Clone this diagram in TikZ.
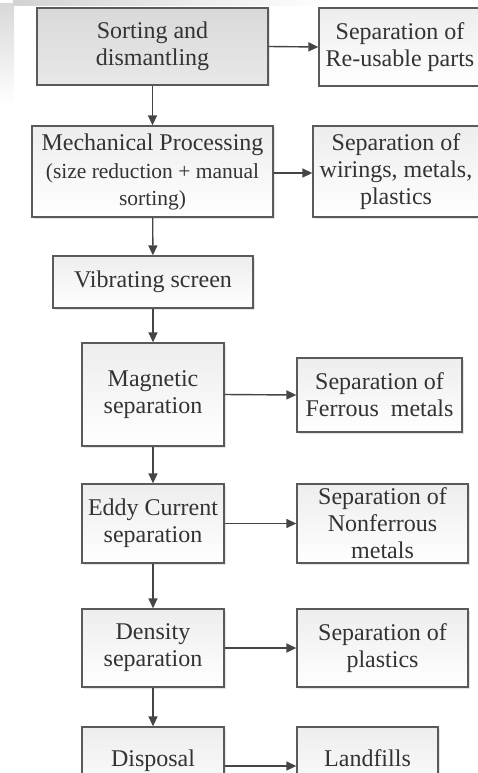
\documentclass[tikz,border=0pt]{standalone}
\usepackage{fontspec}
\setmainfont{Liberation Serif}
\usetikzlibrary{arrows.meta,shadows}
\definecolor{boxline}{HTML}{5A5A5A}
\definecolor{arrowc}{HTML}{454545}
\definecolor{txt}{HTML}{333333}
\begin{document}
\begin{tikzpicture}[x=1pt,y=-1pt,
  box/.style={draw=boxline, line width=1.3pt, top color=gray!14, bottom color=white,
    inner sep=0pt, align=center, text=txt, font=\fontsize{24}{27}\selectfont,
    drop shadow={shadow xshift=1.5pt, shadow yshift=-1.5pt, fill=gray!35, opacity=0.6}},
  darkbox/.style={box, top color=gray!30, bottom color=gray!18},
  boxtext/.style={inner sep=0pt, text=txt, font=\fontsize{24}{27}\selectfont, anchor=base},
  flow/.style={draw=arrowc, line width=1.4pt, -{Triangle[length=10pt,width=9pt]}}]
\useasboundingbox (0,0) rectangle (478,773);
\clip (0,0) rectangle (478,773);
% photo-like background shading at the top-left
\shade[left color=gray!35, right color=white] (13,0) rectangle (330,6);
\shade[top color=gray!30, bottom color=white] (0,4) rectangle (14,105);
% boxes
\node[darkbox, minimum width=231pt, minimum height=77pt] (sort) at (152.5,46.5) {Sorting and\\dismantling};
\node[box, minimum width=162pt, minimum height=78pt] (reuse) at (400,47) {Separation of\\Re-usable parts};
\node[box, minimum width=241pt, minimum height=91pt] (mech) at (152.5,171.5)
  {Mechanical Processing\\[1pt]{\fontsize{21.5}{24}\selectfont(size reduction + manual}\\{\fontsize{21.5}{24}\selectfont sorting)}};
\node[box, minimum width=166pt, minimum height=91pt] (wire) at (396,171.5) {Separation of\\wirings, metals,\\plastics};
\node[box, minimum width=200pt, minimum height=52pt] (vib) at (153,282) {Vibrating screen};
\node[box, minimum width=142pt, minimum height=103pt] (mag) at (153,394.5) {Magnetic\\separation};
\node[box, minimum width=165pt, minimum height=74pt] (ferr) at (379.5,395) {Separation of\\Ferrous\ \ metals};
\node[box, minimum width=142pt, minimum height=79pt] (eddy) at (153,523.5) {Eddy Current\\separation};
\node[box, minimum width=171pt, minimum height=79pt] (nonf) at (382.5,523.5) {Separation of\\Nonferrous\\metals};
\node[box, minimum width=142pt, minimum height=78pt] (dens) at (153,648) {Density\\separation};
\node[box, minimum width=171pt, minimum height=78pt] (plas) at (382.5,648) {Separation of\\plastics};
\node[box, minimum width=142pt, minimum height=78pt] (disp) at (153,766) {};
\node[box, minimum width=141pt, minimum height=78pt] (land) at (367.5,766) {};
\node[boxtext] (disptext) at (153,766.5) {Disposal};
\node[boxtext] (landtext) at (367.5,766.5) {Landfills};
% connectors
\draw[flow] (sort) -- (mech);
\draw[flow] (mech) -- (vib);
\draw[flow] (vib) -- (mag);
\draw[flow] (mag) -- (eddy);
\draw[flow] (eddy) -- (dens);
\draw[flow] (dens) -- (disp);
\draw[flow] (sort.east) -- (reuse.west);
\draw[flow] (mech.east) ++(0,1.5) -- ([yshift=-1.5pt]wire.west);
\draw[flow] (mag.east) -- (ferr.west);
\draw[flow] (eddy.east) -- (nonf.west);
\draw[flow] (dens.east) -- (plas.west);
\draw[flow] (disp.east) -- (land.west);
\end{tikzpicture}
\end{document}
